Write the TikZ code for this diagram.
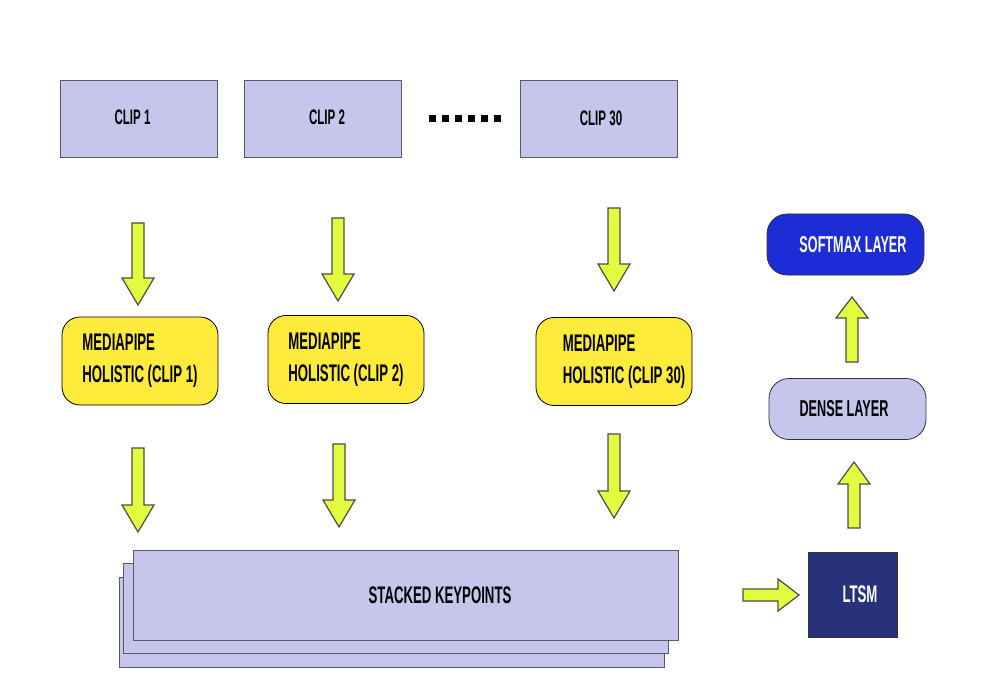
\documentclass[tikz,border=0pt]{standalone}
\usepackage{fontspec}
\newfontfamily\boxfont[FakeStretch=0.55]{Liberation Sans Bold}
\definecolor{cliplav}{RGB}{198,198,236}
\definecolor{pipeyellow}{RGB}{255,235,59}
\definecolor{arrowlime}{RGB}{228,252,64}
\definecolor{softblue}{RGB}{28,44,214}
\definecolor{ltsmnavy}{RGB}{40,50,122}
\definecolor{edgegray}{RGB}{90,90,100}
\tikzset{
  clipbox/.style={draw=edgegray, fill=cliplav, minimum width=78.5pt, minimum height=38.5pt,
    inner sep=0pt, font=\boxfont\fontsize{10.5}{12}\selectfont},
  pipebox/.style={draw=black, fill=pipeyellow, rounded corners=9pt, minimum width=78pt,
    minimum height=44pt, inner sep=0pt, align=left, font=\boxfont\fontsize{12}{16}\selectfont},
  layerbox/.style={draw=black!80, rounded corners=10pt, minimum width=78.5pt,
    minimum height=30.5pt, inner sep=0pt, font=\boxfont\fontsize{11.5}{14}\selectfont},
  keysbox/.style={draw=edgegray, fill=cliplav, minimum width=272.5pt, minimum height=45pt,
    inner sep=0pt, font=\boxfont\fontsize{12}{14}\selectfont},
  pics/fatarrow/.style 2 args={code={
    \filldraw[fill=arrowlime, draw=black!70, line width=0.6pt]
      (0,-6) -- ({#1-#2},-6) -- ({#1-#2},-16) -- (#1,0) -- ({#1-#2},16) -- ({#1-#2},6) -- (0,6) -- cycle;
  }}
}
\begin{document}
\begin{tikzpicture}[x=0.5pt, y=-0.5pt]
      \useasboundingbox (0,0) rectangle (1000,700);

      % Clips
      \node [clipbox] at (138.5, 118.5) (clipA) {\raisebox{1.5pt}{CLIP 1}\hspace*{6pt}};
      \node [clipbox] at (323, 118.5) (clipB) {\hspace*{4pt}\raisebox{1.5pt}{CLIP 2}};
      \node [clipbox] at (598.5, 118.5) (clipC) {\hspace*{2.5pt}CLIP 30};
      \foreach \i in {0,...,5}
          \fill ({428.5 + 13*\i}, 115.5) rectangle +(7, 7);

      % Mediapipe
      \node [pipebox] at (140, 361) (pipeA) {MEDIAPIPE\\HOLISTIC (CLIP 1)};
      \node [pipebox] at (346, 359.5) (pipeB) {MEDIAPIPE\\HOLISTIC (CLIP 2)};
      \node [pipebox] at (614, 361.5) (pipeC) {\hspace*{10pt}MEDIAPIPE\\\hspace*{10pt}HOLISTIC (CLIP 30)};

      \pic [rotate=-90] at (138, 223) {fatarrow={82}{27}};
      \pic [rotate=-90] at (338, 218) {fatarrow={83}{27}};
      \pic [rotate=-90] at (614, 208) {fatarrow={83}{27}};
      \pic [rotate=-90] at (138, 448) {fatarrow={84}{27}};
      \pic [rotate=-90] at (339, 444) {fatarrow={83}{27}};
      \pic [rotate=-90] at (614, 434) {fatarrow={84}{27}};

      % Stacked keypoints
      \node [keysbox] at (391.5, 622) (keysC) {};
      \node [keysbox] at (396, 608) (keysB) {};
      \node [keysbox] at (405.5, 595) (keysA) {\hspace*{34.5pt}STACKED KEYPOINTS};

      % Network layers
      \node [draw=black!80, fill=ltsmnavy, text=white, minimum width=44.5pt, minimum height=42.5pt,
          inner sep=0pt, font=\boxfont\fontsize{12}{14}\selectfont] at (852.5, 594.5) (ltsm) {\hspace*{7.5pt}LTSM};
      \node [layerbox, fill=cliplav] at (847.5, 409) (dense) {DENSE LAYER\hspace*{3.5pt}};
      \node [layerbox, fill=softblue, text=white] at (845.5, 244.5) (softmax) {\hspace*{7.5pt}SOFTMAX LAYER};

      \pic at (743, 595) {fatarrow={56}{21}};
      \pic [rotate=90] at (854, 528) {fatarrow={66}{22}};
      \pic [rotate=90] at (852, 362) {fatarrow={65}{21}};
  \end{tikzpicture}
\end{document}
